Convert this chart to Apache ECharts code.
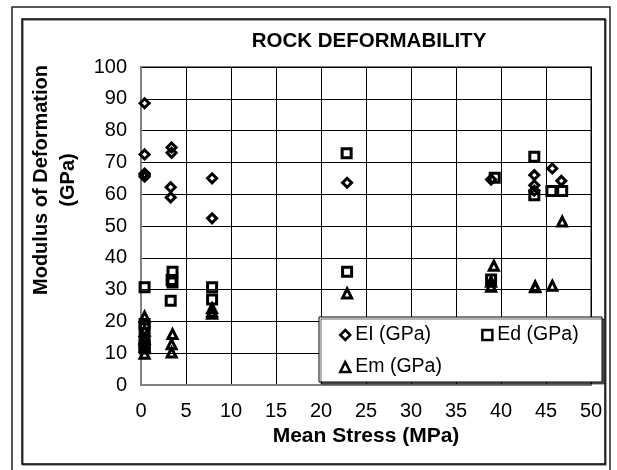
<!DOCTYPE html>
<html>
<head>
<meta charset="utf-8">
<script src="https://cdn.jsdelivr.net/npm/echarts@6/dist/echarts.min.js"></script>
<style>
html,body{margin:0;padding:0;background:#fff;}
#chart{width:617px;height:470px;}
</style>
</head>
<body>
<div id="chart"></div>
<script>
// ---- data ----
var titleText = 'ROCK DEFORMABILITY';
var xTitle = 'Mean Stress (MPa)';
var yTitle = 'Modulus of Deformation\n(GPa)';
var seriesNames = ['EI (GPa)', 'Ed (GPa)', 'Em (GPa)'];
var xTicks = {min: 0, max: 50, interval: 5};
var yTicks = {min: 0, max: 100, interval: 10};

var elPoints = [
  [0.4, 88.6], [0.4, 72.5], [0.4, 66.5], [0.4, 66.0], [0.4, 65.5],
  [3.4, 74.7], [3.4, 73.0], [3.3, 62.2], [3.3, 59.0],
  [7.9, 65.0], [7.9, 52.4],
  [22.9, 63.6],
  [38.9, 64.6],
  [43.7, 66.0], [43.7, 62.8], [43.7, 61.1],
  [45.7, 68.1], [46.7, 64.2]
];
var edPoints = [
  [0.4, 30.7], [0.4, 19.2], [0.4, 17.8], [0.4, 13.3], [0.4, 12.4], [0.4, 11.5],
  [3.5, 35.6], [3.4, 33.0], [3.5, 32.2], [3.3, 26.5],
  [7.9, 30.7], [7.9, 26.9],
  [22.85, 72.9], [22.9, 35.6],
  [39.3, 65.2], [38.9, 33.2],
  [43.7, 71.8], [43.7, 59.7],
  [45.6, 61.0], [46.8, 61.0]
];
var emPoints = [
  [0.4, 21.5], [0.4, 17.0], [0.4, 14.5], [0.4, 12.0], [0.4, 9.8],
  [3.5, 16.0], [3.4, 12.8], [3.4, 10.2],
  [7.9, 24.1], [7.9, 23.0], [7.9, 22.4],
  [22.9, 28.8],
  [39.2, 37.5], [38.9, 32.5], [38.9, 30.9],
  [43.8, 31.0], [43.8, 30.7],
  [45.7, 31.2],
  [46.8, 51.4]
];

var FONT = '"Liberation Sans", Arial, sans-serif';
var markerStyle = {color: 'rgba(255,255,255,0)', borderColor: '#000', borderWidth: 3, opacity: 1};

var chart = echarts.init(document.getElementById('chart'), null, {renderer: 'canvas'});
chart.setOption({
  backgroundColor: '#fff',
  animation: false,
  title: {
    text: titleText,
    left: 364, top: 26, textAlign: 'center',
    textStyle: {fontFamily: FONT, fontSize: 20.5, fontWeight: 'bold', color: '#000'}
  },
  grid: {
    left: 141, top: 67, width: 450, height: 318,
    show: true, borderColor: '#808080', borderWidth: 2, backgroundColor: '#fff'
  },
  xAxis: {
    type: 'value', min: xTicks.min, max: xTicks.max, interval: xTicks.interval,
    name: xTitle, nameLocation: 'middle', nameGap: 41,
    nameTextStyle: {fontFamily: FONT, fontSize: 21, fontWeight: 'bold', color: '#000'},
    axisLine: {show: true, lineStyle: {color: '#808080', width: 2}},
    axisTick: {show: false},
    axisLabel: {margin: 16, fontFamily: FONT, fontSize: 20, color: '#000'},
    splitLine: {show: true, lineStyle: {color: '#000', width: 1}}
  },
  yAxis: {
    type: 'value', min: yTicks.min, max: yTicks.max, interval: yTicks.interval,
    axisLine: {show: true, lineStyle: {color: '#808080', width: 2}},
    axisTick: {show: false},
    axisLabel: {margin: 14, fontFamily: FONT, fontSize: 20, color: '#000'},
    splitLine: {show: true, lineStyle: {color: '#000', width: 1}}
  },
  legend: [
    {
      data: [seriesNames[0], seriesNames[1]],
      left: 339, top: 325, padding: 0, itemGap: 50,
      itemWidth: 10, itemHeight: 10, z: 20,
      itemStyle: {borderWidth: 2.5, borderColor: '#000', color: 'rgba(255,255,255,0)'},
      textStyle: {fontFamily: FONT, fontSize: 19.5, color: '#000', lineHeight: 20}
    },
    {
      data: [seriesNames[2]],
      left: 339, top: 357, padding: 0,
      itemWidth: 10, itemHeight: 10, z: 20,
      itemStyle: {borderWidth: 2.5, borderColor: '#000', color: 'rgba(255,255,255,0)'},
      textStyle: {fontFamily: FONT, fontSize: 19.5, color: '#000', lineHeight: 20}
    }
  ],
  graphic: [
    {type: 'rect', z: -10, silent: true, shape: {x: 12, y: 7, width: 598, height: 480},
     style: {fill: 'none', stroke: '#222', lineWidth: 1.5}},
    {type: 'rect', z: -9, silent: true, shape: {x: 22, y: 19, width: 583, height: 445},
     style: {fill: 'none', stroke: '#000', lineWidth: 1.5, shadowColor: 'rgba(0,0,0,0.5)', shadowOffsetX: 1, shadowOffsetY: 1}},
    {type: 'rect', z: 10, silent: true, shape: {x: 319, y: 317, width: 283, height: 65},
     style: {fill: '#fff', stroke: '#000', lineWidth: 1, shadowColor: 'rgba(0,0,0,0.6)', shadowOffsetX: 2, shadowOffsetY: 2}},
    {type: 'text', z: 10, silent: true, x: 55, y: 180, rotation: Math.PI / 2,
     style: {text: yTitle, textAlign: 'center', textVerticalAlign: 'middle',
       font: 'bold 20px ' + FONT, lineHeight: 27, fill: '#000'}}
  ],
  series: [
    {name: seriesNames[0], type: 'scatter', symbol: 'diamond', symbolSize: 9, data: elPoints, itemStyle: markerStyle},
    {name: seriesNames[1], type: 'scatter', symbol: 'rect', symbolSize: 9, data: edPoints, itemStyle: markerStyle},
    {name: seriesNames[2], type: 'scatter', symbol: 'triangle', symbolSize: 9, data: emPoints, itemStyle: markerStyle}
  ]
});
</script>
</body>
</html>
